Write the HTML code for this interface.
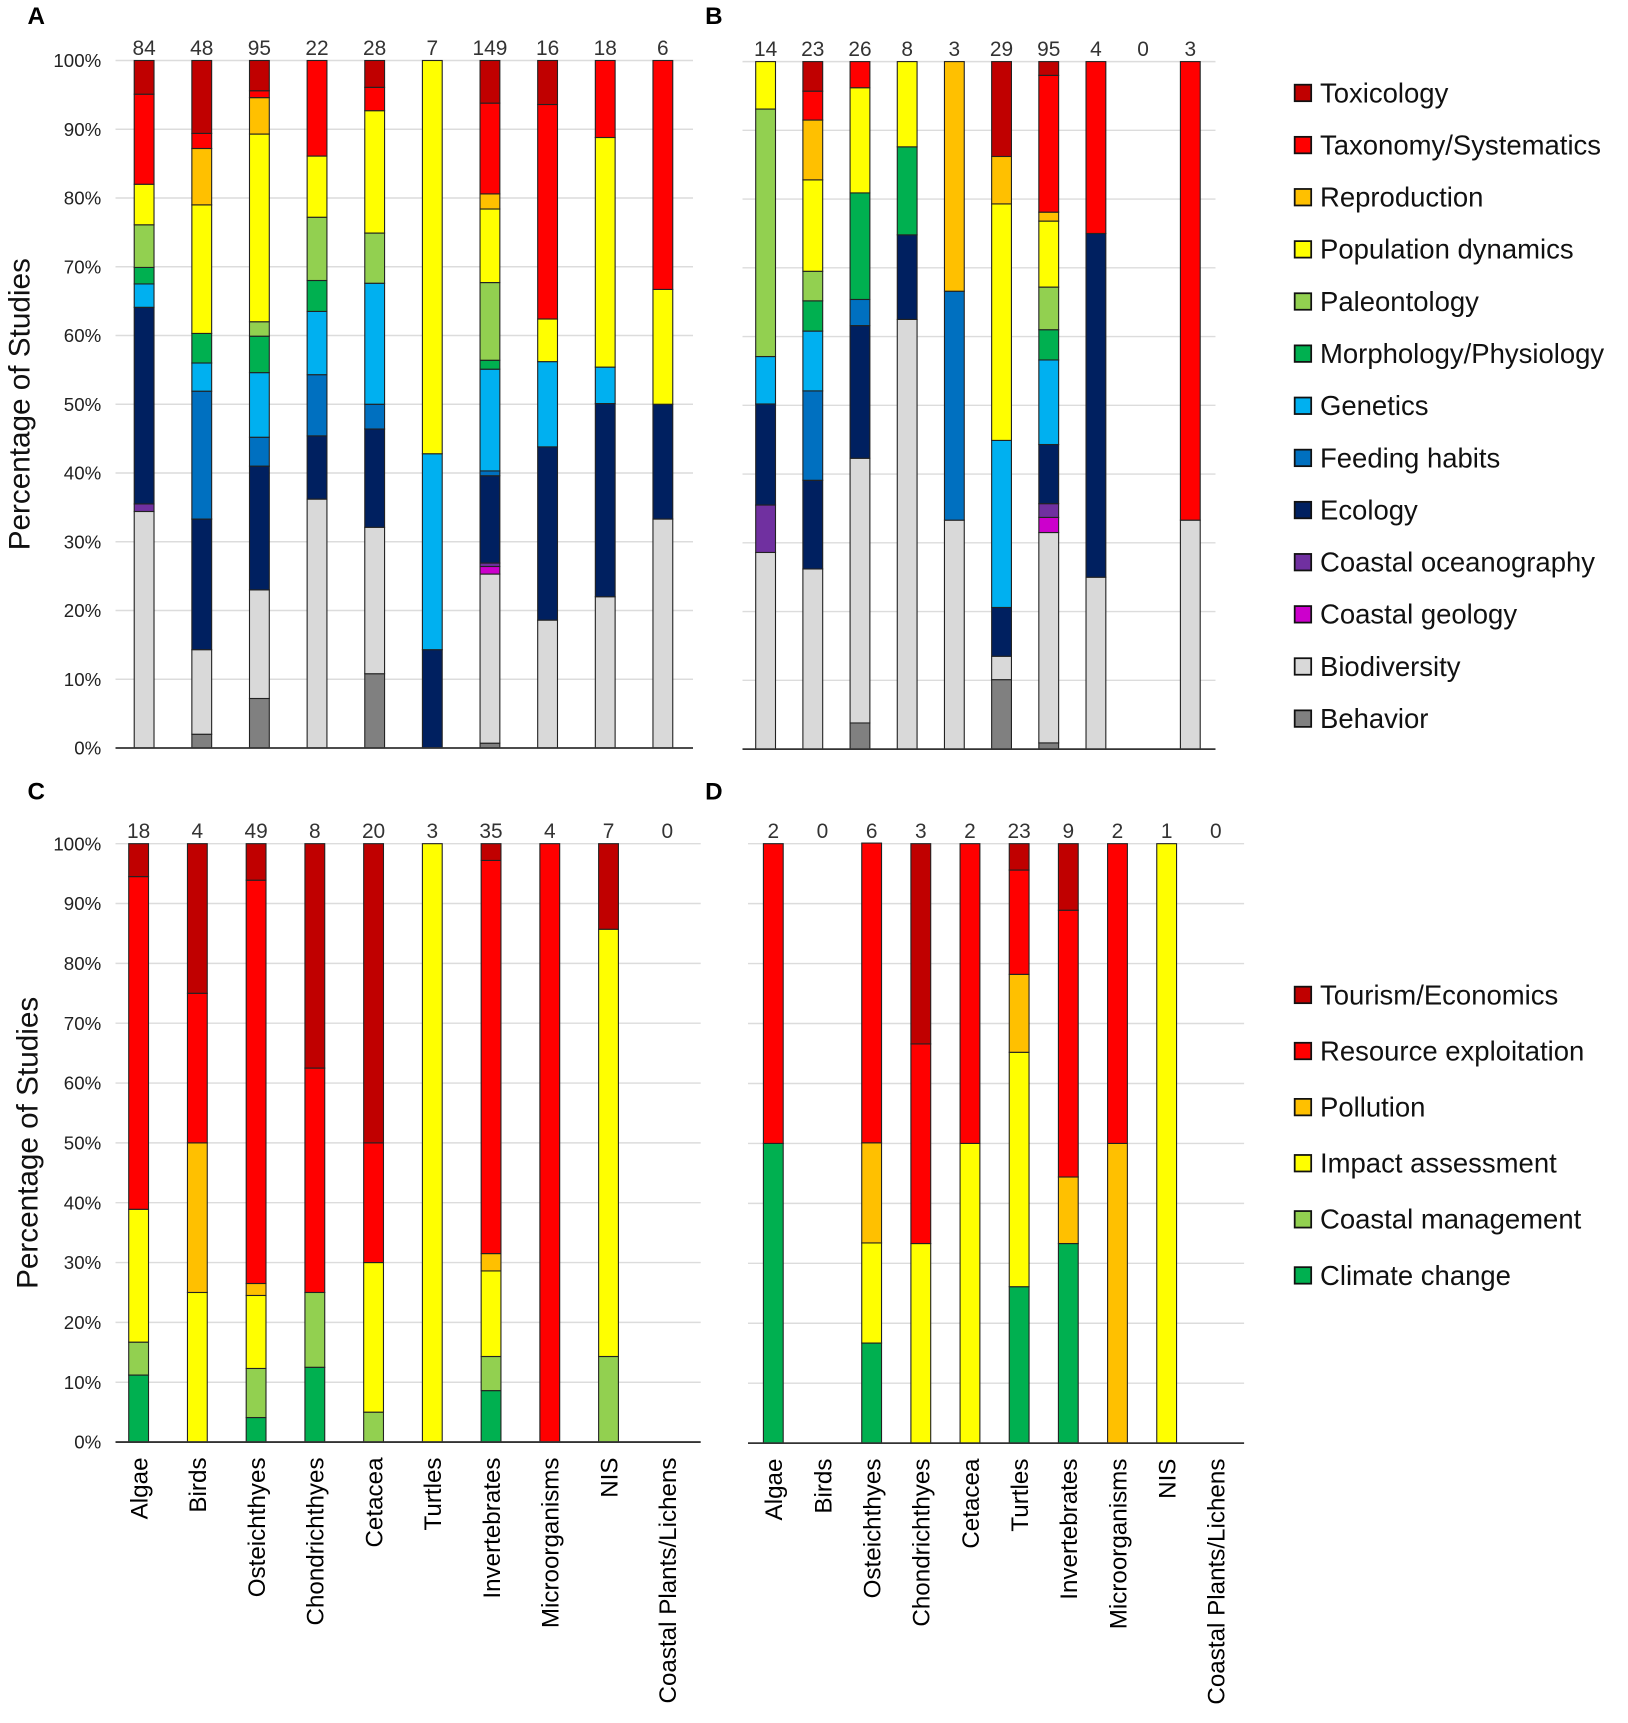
<!DOCTYPE html>
<html><head><meta charset="utf-8">
<style>
html,body{margin:0;padding:0;background:#fff;}
svg{display:block;font-family:"Liberation Sans",sans-serif;}
</style></head>
<body>
<svg id="fig" width="1628" height="1723" viewBox="0 0 1480 1566.4" xmlns="http://www.w3.org/2000/svg"></svg>
<script>
// ---------- data ----------
const categories = ["Algae","Birds","Osteichthyes","Chondrichthyes","Cetacea","Turtles","Invertebrates","Microorganisms","NIS","Coastal Plants/Lichens"];
const topicNames = ["Behavior","Biodiversity","Coastal geology","Coastal oceanography","Ecology","Feeding habits","Genetics","Morphology/Physiology","Paleontology","Population dynamics","Reproduction","Taxonomy/Systematics","Toxicology"];
const topicColors = ["#808080","#d9d9d9","#cc00cc","#7030a0","#002060","#0070c0","#00b0f0","#00b050","#92d050","#ffff00","#ffc000","#ff0000","#c00000"];
const impactNames = ["Climate change","Coastal management","Impact assessment","Pollution","Resource exploitation","Tourism/Economics"];
const impactColors = ["#00b050","#92d050","#ffff00","#ffc000","#ff0000","#c00000"];
const yTicks = ["0%","10%","20%","30%","40%","50%","60%","70%","80%","90%","100%"];

const countsA = [84,48,95,22,28,7,149,16,18,6];
const valuesA = [
 [0,34.4,0,1.1,28.6,0,3.4,2.4,6.2,5.9,0,13.1,4.9],
 [2,12.3,0,0,19,18.6,4.1,4.3,0,18.7,8.2,2.2,10.6],
 [7.2,15.8,0,0,18,4.2,9.4,5.3,2.1,27.3,5.3,1,4.4],
 [0,36.2,0,0,9.2,8.9,9.2,4.5,9.2,8.9,0,13.9,0],
 [10.8,21.3,0,0,14.3,3.6,17.6,0,7.3,17.8,0,3.4,3.9],
 [0,0,0,0,14.3,0,28.5,0,0,57.2,0,0,0],
 [0.7,24.6,1.1,0.5,12.7,0.7,14.8,1.3,11.3,10.7,2.2,13.2,6.2],
 [0,18.6,0,0,25.2,0,12.4,0,0,6.2,0,31.2,6.4],
 [0,22,0,0,28.1,0,5.3,0,0,33.4,0,11.2,0],
 [0,33.3,0,0,16.7,0,0,0,0,16.7,0,33.3,0]
];
const countsB = [14,23,26,8,3,29,95,4,0,3];
const valuesB = [
 [0,28.6,0,6.9,14.7,0,6.9,0,36,6.9,0,0,0],
 [0,26.2,0,0,12.9,13,8.7,4.4,4.3,13.3,8.7,4.2,4.3],
 [3.8,38.5,0,0,19.3,3.8,0,15.5,0,15.3,0,3.8,0],
 [0,62.5,0,0,12.3,0,0,12.8,0,12.4,0,0,0],
 [0,33.3,0,0,0,33.3,0,0,0,0,33.4,0,0],
 [10.1,3.4,0,0,7.1,0,24.3,0,0,34.4,6.9,0,13.8],
 [0.9,30.6,2.2,2,8.6,0,12.3,4.4,6.2,9.6,1.3,19.9,2],
 [0,25,0,0,50,0,0,0,0,0,0,25,0],
 [0,0,0,0,0,0,0,0,0,0,0,0,0],
 [0,33.3,0,0,0,0,0,0,0,0,0,66.7,0]
];
const countsC = [18,4,49,8,20,3,35,4,7,0];
const valuesC = [
 [11.2,5.5,22.2,0,55.6,5.5],
 [0,0,25,25,25,25],
 [4.1,8.2,12.2,2,67.4,6.1],
 [12.5,12.5,0,0,37.5,37.5],
 [0,5,25,0,20,50],
 [0,0,100,0,0,0],
 [8.6,5.7,14.3,2.9,65.7,2.8],
 [0,0,0,0,100,0],
 [0,14.3,71.4,0,0,14.3],
 [0,0,0,0,0,0]
];
const countsD = [2,0,6,3,2,23,9,2,1,0];
const valuesD = [
 [50,0,0,0,50,0],
 [0,0,0,0,0,0],
 [16.7,0,16.7,16.7,50,0],
 [0,0,33.3,0,33.3,33.4],
 [0,0,50,0,50,0],
 [26.1,0,39.1,13,17.4,4.4],
 [33.3,0,0,11.1,44.5,11.1],
 [0,0,0,50,50,0],
 [0,0,100,0,0,0],
 [0,0,0,0,0,0]
];

// ---------- drawing ----------
const NS="http://www.w3.org/2000/svg";
const svg=document.getElementById('fig');
function mk(tag,attrs,parent){const e=document.createElementNS(NS,tag);for(const k in attrs)e.setAttribute(k,attrs[k]);(parent||svg).appendChild(e);return e;}
function txt(s,attrs,parent){const e=mk('text',attrs,parent);e.textContent=s;return e;}

function panel(cfg){
  const g=mk('g',{});
  
  
  const yScale=v=>cfg.y0-(cfg.y0-cfg.y100)*v/100;
  const xScale=i=>cfg.c0+i*cfg.step;
  const lab=txt(cfg.id,{x:cfg.lx,y:cfg.ly,'font-size':22,'font-weight':'bold',fill:'#000'},g);
  
  
  for(let t=1;t<=10;t++){
    const l=mk('line',{x1:cfg.x0,x2:cfg.x1,y1:yScale(t*10),y2:yScale(t*10),stroke:'#dcdcdc','stroke-width':1.3},g);
    
    
  }
  if(cfg.ticks){
    yTicks.forEach((s,t)=>{
      const e=txt(s,{x:92,y:yScale(t*10)+6,'text-anchor':'end','font-size':17,fill:'#222'},g);
      
      
    });
    const yt=txt('Percentage of Studies',{transform:`translate(${cfg.titleX},${(cfg.y0+cfg.y100)/2}) rotate(-90)`,'text-anchor':'middle','font-size':27,fill:'#111'},g);
    
    
  }
  cfg.values.forEach((row,i)=>{
    const cx=xScale(i);
    let cum=0;
    row.forEach((v,k)=>{
      if(v<=0)return;
      const ya=yScale(cum), yb=yScale(cum+v);
      cum+=v;
      const r=mk('rect',{x:cx-9,y:yb,width:18,height:ya-yb,fill:cfg.colors[k],stroke:'#222','stroke-width':1},g);
      
      
    });
    const c=txt(String(cfg.counts[i]),{x:cx,y:cfg.y100-5,'text-anchor':'middle','font-size':19,fill:'#333'},g);
    
    
    if(cfg.xlabels){
      const xl=txt(categories[i],{transform:`translate(${cx+8},${cfg.y0+14}) rotate(-90)`,'text-anchor':'end','font-size':22,fill:'#000'},g);
      
      
    }
  });
  const ax=mk('line',{x1:cfg.x0,x2:cfg.x1,y1:cfg.y0,y2:cfg.y0,stroke:'#333','stroke-width':1.6},g);
  
  
}

function legend(names,colors,x,y0,dy,name){
  const g=mk('g',{});
  
  
  for(let k=names.length-1,row=0;k>=0;k--,row++){
    const y=y0+row*dy;
    const r=mk('rect',{x:x,y:y-8,width:15,height:15,fill:colors[k],stroke:'#111','stroke-width':1.6},g);
    
    
    const t=txt(names[k],{x:x+23,y:y+8,'font-size':25,fill:'#111'},g);
    
    
  }
}

panel({id:'A',lx:25,ly:22,x0:105,x1:630,y0:680,y100:55,c0:131,step:52.4,values:valuesA,counts:countsA,colors:topicColors,ticks:true,titleX:27,xlabels:false});
panel({id:'B',lx:641,ly:22,x0:675,x1:1105,y0:681,y100:56,c0:696,step:42.9,values:valuesB,counts:countsB,colors:topicColors,ticks:false,xlabels:false});
panel({id:'C',lx:25,ly:727,x0:105,x1:637,y0:1311,y100:767,c0:126,step:53.4,values:valuesC,counts:countsC,colors:impactColors,ticks:true,titleX:34,xlabels:true});
panel({id:'D',lx:641,ly:727,x0:680,x1:1131,y0:1312,y100:767,c0:703,step:44.7,values:valuesD,counts:countsD,colors:impactColors,ticks:false,xlabels:true});
legend(topicNames,topicColors,1177,85,47.4,'legend-topics');
legend(impactNames,impactColors,1177,905,51,'legend-impacts');
</script>
</body></html>
